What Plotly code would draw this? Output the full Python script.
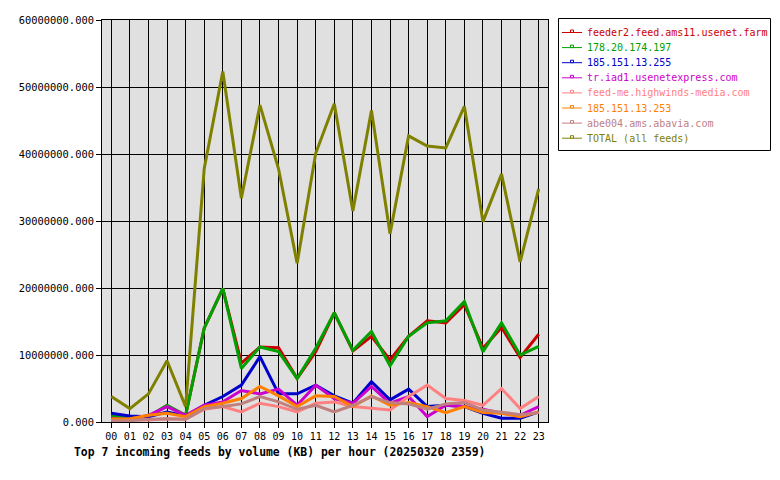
import plotly.graph_objects as go

hours = ["00","01","02","03","04","05","06","07","08","09","10","11",
         "12","13","14","15","16","17","18","19","20","21","22","23"]

names = ["feeder2.feed.ams11.usenet.farm", "178.20.174.197", "185.151.13.255",
         "tr.iad1.usenetexpress.com", "feed-me.highwinds-media.com",
         "185.151.13.253", "abe004.ams.abavia.com", "TOTAL (all feeds)"]
colors = ["#cc0000", "#00a000", "#0000cc", "#cc00cc", "#ff8080",
          "#ff8000", "#c08080", "#808000"]

feeder2 = [0.9e6, 0.6e6, 0.8e6, 2.4e6, 1.0e6, 14.0e6, 19.9e6, 8.8e6, 11.2e6, 11.1e6,
           6.5e6, 10.5e6, 16.3e6, 10.6e6, 12.8e6, 9.25e6, 12.8e6, 15.1e6, 14.8e6,
           17.5e6, 11.0e6, 14.1e6, 9.65e6, 13.1e6]
ip178 = [0.95e6, 0.6e6, 0.8e6, 2.5e6, 1.0e6, 14.0e6, 19.95e6, 8.0e6, 11.2e6, 10.5e6,
         6.5e6, 11.0e6, 16.3e6, 10.7e6, 13.5e6, 8.4e6, 12.8e6, 14.8e6, 15.1e6,
         18.0e6, 10.5e6, 14.8e6, 10.0e6, 11.3e6]
ip255 = [1.3e6, 0.9e6, 0.8e6, 1.5e6, 0.9e6, 2.5e6, 3.8e6, 5.5e6, 9.75e6, 4.2e6,
         4.2e6, 5.5e6, 3.9e6, 2.8e6, 6.0e6, 3.3e6, 4.9e6, 2.3e6, 2.5e6, 2.3e6,
         1.3e6, 0.55e6, 0.55e6, 1.5e6]
triad = [0.5e6, 0.4e6, 1.0e6, 2.3e6, 1.0e6, 2.5e6, 3.0e6, 4.7e6, 4.2e6, 4.9e6,
         2.5e6, 5.5e6, 3.5e6, 2.8e6, 5.3e6, 2.8e6, 3.8e6, 0.8e6, 2.5e6, 2.3e6,
         1.9e6, 1.3e6, 1.0e6, 2.3e6]
feedme = [0.3e6, 0.3e6, 0.3e6, 0.5e6, 0.4e6, 1.9e6, 2.3e6, 1.5e6, 2.8e6, 2.3e6,
          1.5e6, 2.8e6, 3.0e6, 2.3e6, 2.0e6, 1.8e6, 3.8e6, 5.5e6, 3.5e6, 3.2e6,
          2.5e6, 5.0e6, 2.0e6, 3.8e6]
ip253 = [0.45e6, 0.5e6, 1.0e6, 1.3e6, 0.8e6, 2.3e6, 2.8e6, 3.5e6, 5.3e6, 3.9e6,
         2.3e6, 3.9e6, 3.8e6, 2.3e6, 3.9e6, 2.5e6, 2.9e6, 2.3e6, 1.4e6, 2.3e6,
         1.4e6, 1.3e6, 0.8e6, 1.5e6]
abe004 = [0.2e6, 0.2e6, 0.4e6, 0.5e6, 0.4e6, 2.0e6, 2.3e6, 2.7e6, 3.8e6, 3.0e6,
          1.9e6, 2.5e6, 1.5e6, 2.5e6, 3.8e6, 2.9e6, 2.7e6, 1.9e6, 2.7e6, 2.9e6,
          1.8e6, 1.5e6, 1.1e6, 1.4e6]
total = [3.8e6, 2.0e6, 4.2e6, 9.15e6, 2.3e6, 37.8e6, 52.3e6, 33.4e6, 47.3e6, 37.8e6,
         23.7e6, 40.1e6, 47.5e6, 31.5e6, 46.5e6, 28.1e6, 42.7e6, 41.2e6, 40.9e6,
         47.1e6, 29.9e6, 37.0e6, 23.9e6, 34.8e6]

series = [feeder2, ip178, ip255, triad, feedme, ip253, abe004, total]

ytickvals = [0, 10e6, 20e6, 30e6, 40e6, 50e6, 60e6]
yticktext = ["0.000", "10000000.000", "20000000.000", "30000000.000",
             "40000000.000", "50000000.000", "60000000.000"]

title_text = "Top 7 incoming feeds by volume (KB) per hour (20250320 2359)"

FONT = "DejaVu Sans Mono"
W, H = 780, 480
ML, MR, MT, MB = 102, 232, 20, 58
PW, PH = W - ML - MR, H - MT - MB


def px(xp):
    return (xp - ML) / PW


def py(yp):
    return (H - MB - yp) / PH


fig = go.Figure()
for name, col, vals in zip(names, colors, series):
    fig.add_trace(go.Scatter(
        x=list(range(len(hours))), y=vals, name=name, mode="lines",
        line=dict(color=col, width=3), showlegend=False,
    ))

# custom legend (compact, like the reference)
shapes = [dict(type="rect", xref="paper", yref="paper",
               x0=px(558.5), x1=px(770.5), y0=py(150.5), y1=py(18.5),
               line=dict(color="black", width=1), fillcolor="white", layer="above")]
annotations = []
for i, (name, col) in enumerate(zip(names, colors)):
    yc = 32.5 + i * 15.1
    shapes.append(dict(type="line", xref="paper", yref="paper",
                       x0=px(562), x1=px(582), y0=py(yc), y1=py(yc),
                       line=dict(color=col, width=1), layer="above"))
    shapes.append(dict(type="rect", xref="paper", yref="paper",
                       x0=px(570.5), x1=px(573.5), y0=py(yc), y1=py(yc - 2.5),
                       line=dict(color=col, width=1), fillcolor="white", layer="above"))
    annotations.append(dict(text=name, xref="paper", yref="paper",
                            x=px(585), y=py(yc), xanchor="left", yanchor="middle",
                            showarrow=False,
                            font=dict(family=FONT, size=10, color=col)))

annotations.append(dict(
    text="<b>" + title_text + "</b>",
    xref="paper", yref="paper", x=px(72), y=py(452),
    xanchor="left", yanchor="middle", showarrow=False,
    font=dict(family=FONT, size=11.4, color="black"),
))

fig.update_layout(
    width=W, height=H,
    margin=dict(l=ML, r=MR, t=MT, b=MB),
    paper_bgcolor="white", plot_bgcolor="#e0e0e0",
    font=dict(family=FONT, size=10, color="black"),
    showlegend=False,
    xaxis=dict(
        range=[-0.5, 23.5], tickvals=list(range(len(hours))), ticktext=hours,
        showgrid=True, gridcolor="black", gridwidth=1,
        ticks="outside", ticklen=5, tickcolor="black",
        showline=True, linecolor="black", linewidth=1, mirror=True,
        zeroline=False, tickfont=dict(family=FONT, size=10),
    ),
    yaxis=dict(
        range=[0, 60e6], tickvals=ytickvals, ticktext=yticktext,
        showgrid=True, gridcolor="black", gridwidth=1,
        ticks="outside", ticklen=5, tickcolor="black",
        showline=True, linecolor="black", linewidth=1, mirror=True,
        zeroline=False, tickfont=dict(family=FONT, size=10.4),
    ),
    shapes=shapes,
    annotations=annotations,
)

fig.write_html("out.html")
